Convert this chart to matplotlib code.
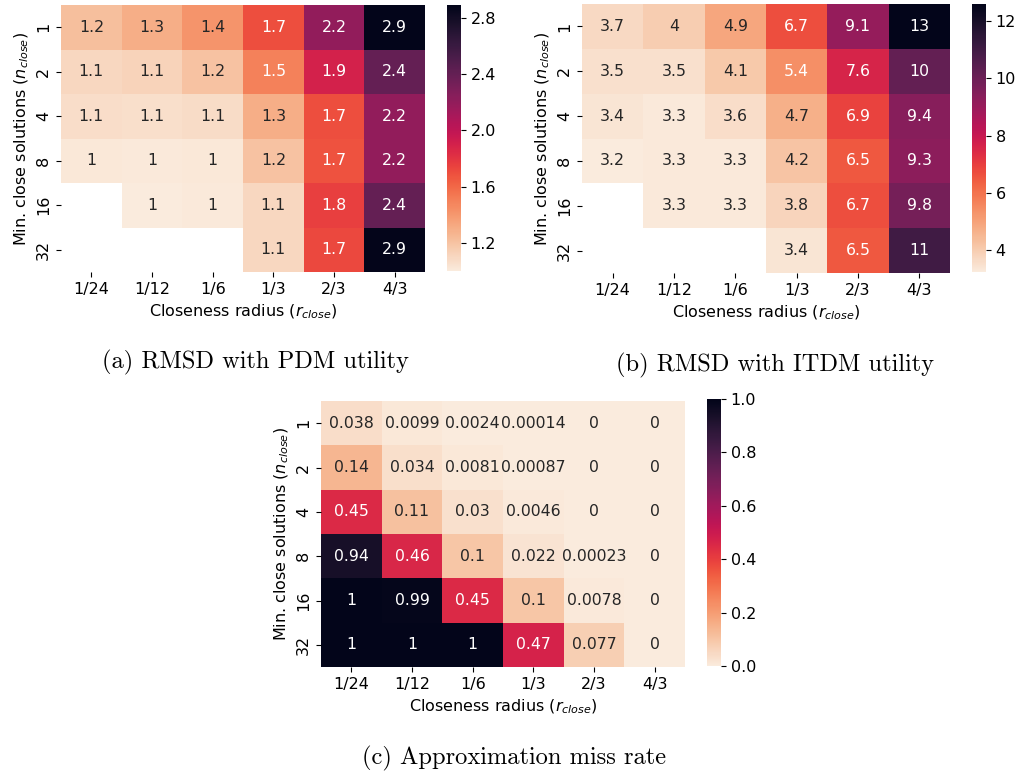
import matplotlib
matplotlib.use("Agg")
import matplotlib.pyplot as plt
import matplotlib.ticker as mticker
import numpy as np
import seaborn as sns

###################################
radius_labels = ["1/24", "1/12", "1/6", "1/3", "2/3", "4/3"]
min_close_labels = ["1", "2", "4", "8", "16", "32"]
nan = np.nan

# (a) RMSD with PDM utility
rmsd_pdm = np.array([
    [1.22, 1.30, 1.42, 1.70, 2.20, 2.89],
    [1.10, 1.12, 1.20, 1.50, 1.90, 2.40],
    [1.07, 1.06, 1.08, 1.30, 1.70, 2.20],
    [1.02, 1.01, 1.02, 1.20, 1.68, 2.20],
    [nan, 1.00, 1.01, 1.10, 1.76, 2.40],
    [nan, nan, nan, 1.10, 1.72, 2.88],
])

# (b) RMSD with ITDM utility
rmsd_itdm = np.array([
    [3.70, 4.00, 4.90, 6.70, 9.10, 12.6],
    [3.50, 3.50, 4.10, 5.40, 7.60, 10.2],
    [3.40, 3.30, 3.60, 4.70, 6.90, 9.40],
    [3.24, 3.30, 3.30, 4.20, 6.50, 9.30],
    [nan, 3.30, 3.30, 3.80, 6.70, 9.80],
    [nan, nan, nan, 3.40, 6.50, 11.0],
])

# (c) approximation miss rate
miss_rate = np.array([
    [0.038, 0.0099, 0.0024, 0.00014, 0, 0],
    [0.14, 0.034, 0.0081, 0.00087, 0, 0],
    [0.45, 0.11, 0.03, 0.0046, 0, 0],
    [0.94, 0.46, 0.1, 0.022, 0.00023, 0],
    [1, 0.99, 0.45, 0.1, 0.0078, 0],
    [1, 1, 1, 0.47, 0.077, 0],
])

captions = ["(a) RMSD with PDM utility", "(b) RMSD with ITDM utility",
            "(c) Approximation miss rate"]
###################################

W, H = 1022, 773
fig = plt.figure(figsize=(W / 100, H / 100), dpi=100)


def px_axes(x0, y0, x1, y1):
    # pixel box (top-left origin) -> figure axes
    return fig.add_axes([x0 / W, 1 - y1 / H, (x1 - x0) / W, (y1 - y0) / H])


def draw(data, box, cbox, cbar_step):
    ax = px_axes(*box)
    cax = px_axes(*cbox)
    sns.heatmap(data, ax=ax, cbar_ax=cax, cmap="rocket_r", annot=True,
                annot_kws={"size": 11.3},
                xticklabels=radius_labels, yticklabels=min_close_labels)
    ax.set_xlabel(r"Closeness radius ($r_{close}$)", fontsize=11.5)
    ax.set_ylabel(r"Min. close solutions ($n_{close}$)", fontsize=11.5)
    ax.tick_params(labelsize=11.5)
    cax.yaxis.set_major_locator(mticker.MultipleLocator(cbar_step))
    cax.tick_params(labelsize=11.5)
    return ax


draw(rmsd_pdm, (61, 5, 425, 272), (447, 5, 461, 271), 0.4)
draw(rmsd_itdm, (582, 4, 950, 273), (972, 4, 986, 272), 2)
draw(miss_rate, (321, 401, 685, 667), (707, 399, 721, 666), 0.2)

cap_pos = [(255, 362), (775, 365), (514, 758)]
for text, (x, y) in zip(captions, cap_pos):
    fig.text(x / W, 1 - y / H, text, ha="center", va="center",
             family="cmr10", fontsize=17.6)

fig.savefig("out.png", dpi=100)
